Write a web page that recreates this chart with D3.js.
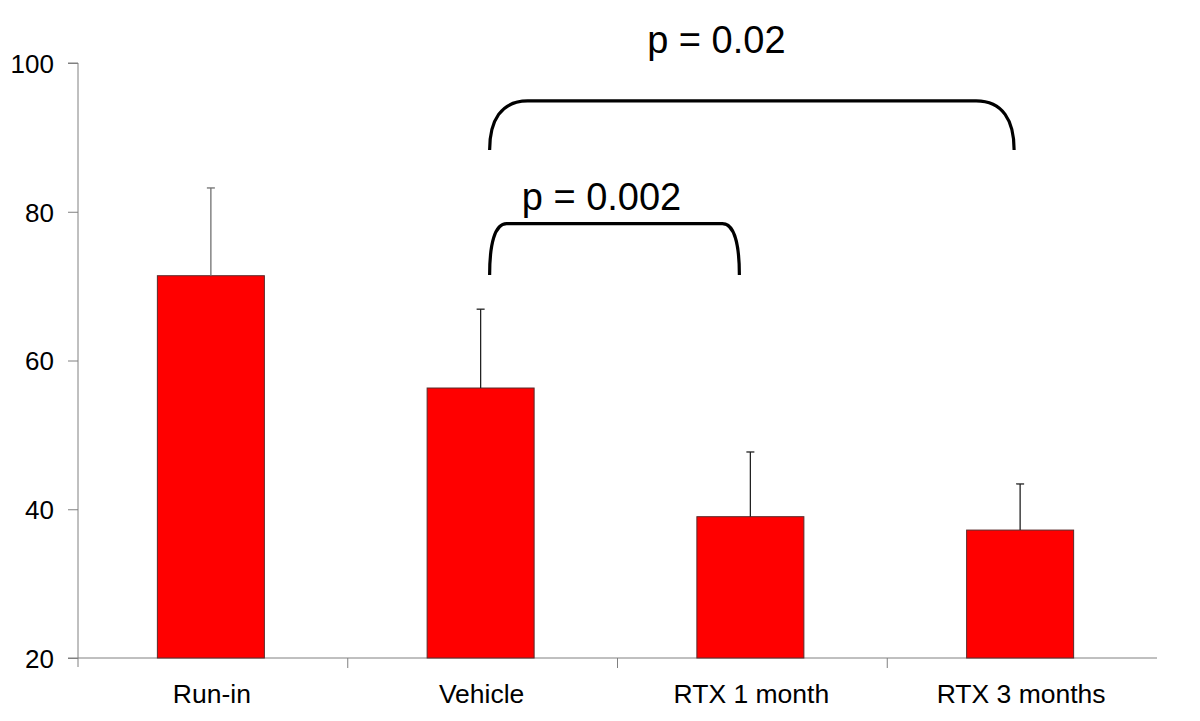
<!DOCTYPE html>
<html><head><meta charset="utf-8">
<script src="https://cdn.jsdelivr.net/npm/d3@7"></script>
<style>body{margin:0;background:#fff}svg{display:block}text{font-family:"Liberation Sans",Arial,sans-serif}</style>
</head><body>
<svg id="c" width="1200" height="721"></svg>
<script>
const categories = ["Run-in", "Vehicle", "RTX 1 month", "RTX 3 months"];
const means = [71.4, 56.3, 39.0, 37.2];
const errors = [11.8, 10.6, 8.7, 6.2];
const yTicks = [20, 40, 60, 80, 100];
// significance brackets
const bracketFrom = ["Vehicle", "Vehicle"];
const bracketTo = ["RTX 1 month", "RTX 3 months"];
const bracketEnd = [71.5, 88.3];
const bracketTop = [78.4, 94.9];
const bracketLabelAt = [80.3, 101.3];
const bracketLabels = ["p = 0.002", "p = 0.02"];

const svg = d3.select("#c");
const L = 78, R = 1157, T = 63, B = 658;
const x = d3.scaleBand().domain(categories).range([L, R]).paddingInner(0).paddingOuter(0);
const y = d3.scaleLinear().domain([20, 100]).range([B, T]);

// y axis
const ya = svg.append("g").attr("transform", `translate(${L},0)`)
  .call(d3.axisLeft(y).tickValues(yTicks).tickSize(10).tickPadding(14).tickFormat(d3.format("d")));
ya.select(".domain").attr("stroke", "#808080").attr("d", `M-10,${T}H0V${B+9}`);
ya.selectAll(".tick line").attr("stroke", "#808080");
ya.selectAll(".tick text").attr("font-size", 26).attr("fill", "#000").attr("dy", "0.36em").attr("x", -24);

// x axis
const xa = svg.append("g").attr("transform", `translate(0,${B})`);
xa.append("line").attr("x1", L - 10).attr("x2", R).attr("y1", 0).attr("y2", 0).attr("stroke", "#808080");
xa.selectAll("line.tk").data(categories.slice(1)).join("line").attr("class", "tk")
  .attr("x1", d => x(d)).attr("x2", d => x(d)).attr("y1", 0).attr("y2", 10).attr("stroke", "#808080");
xa.selectAll("text").data(categories).join("text")
  .attr("x", d => x(d) + x.bandwidth() / 2 - 1).attr("y", 45)
  .attr("text-anchor", "middle").attr("font-size", 26.5).attr("fill", "#000").text(d => d);

// bars
const bw = 107;
const cx = d => x(d) + x.bandwidth() / 2 - 2;
svg.append("g").selectAll("rect").data(categories).join("rect")
  .attr("x", d => cx(d) - bw / 2).attr("width", bw)
  .attr("y", (d, i) => y(means[i])).attr("height", (d, i) => B - y(means[i]))
  .attr("fill", "#ff0000").attr("stroke", "#5a2a2a").attr("stroke-width", 1);

// error bars
const eg = svg.append("g");
categories.forEach((c, i) => {
  const col = i === 0 ? "#707070" : "#222";
  eg.append("line").attr("x1", cx(c)).attr("x2", cx(c))
    .attr("y1", y(means[i])).attr("y2", y(means[i] + errors[i])).attr("stroke", col).attr("stroke-width", 1.3);
  eg.append("line").attr("x1", cx(c) - 4).attr("x2", cx(c) + 4)
    .attr("y1", y(means[i] + errors[i])).attr("y2", y(means[i] + errors[i])).attr("stroke", col).attr("stroke-width", 1.3);
});

// brackets
const bg = svg.append("g");
const leftOff = [9, 9], rightOff = [-11, -6], rx = [17, 38];
bracketLabels.forEach((lab, i) => {
  const x0 = cx(bracketFrom[i]) + leftOff[i];
  const x1 = cx(bracketTo[i]) + rightOff[i];
  const yE = y(bracketEnd[i]), yT = y(bracketTop[i]);
  const r = rx[i];
  const path = `M${x0},${yE} C${x0},${yT + (yE - yT) * 0.4} ${x0 + r * 0.3},${yT} ${x0 + r},${yT} L${x1 - r},${yT} C${x1 - r * 0.3},${yT} ${x1},${yT + (yE - yT) * 0.4} ${x1},${yE}`;
  bg.append("path").attr("d", path).attr("fill", "none").attr("stroke", "#000").attr("stroke-width", 3.2);
});
svg.append("text").attr("x", (cx(bracketFrom[0]) + cx(bracketTo[0])) / 2 - 14).attr("y", y(bracketLabelAt[0]))
  .attr("text-anchor", "middle").attr("font-size", 38).attr("fill", "#000").text(bracketLabels[0]);
svg.append("text").attr("x", (cx(bracketFrom[1]) + cx(bracketTo[1])) / 2 - 34).attr("y", y(bracketLabelAt[1]))
  .attr("text-anchor", "middle").attr("font-size", 38).attr("fill", "#000").text(bracketLabels[1]);
</script>
</body></html>
